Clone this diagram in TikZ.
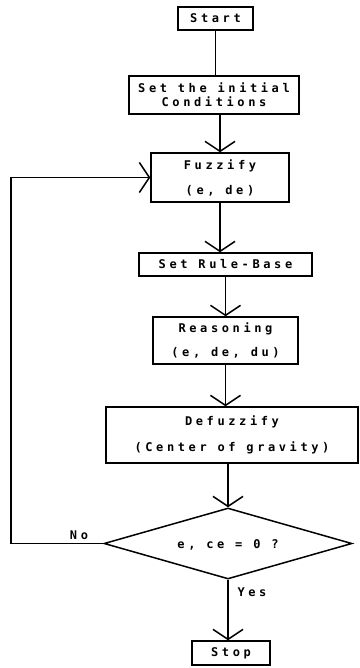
\documentclass[tikz,border=0pt]{standalone}
\usepackage{fontspec}
\newfontfamily\dmfont[LetterSpace=30]{DejaVu Sans Mono}
\usetikzlibrary{shapes.geometric,arrows.meta}
\begin{document}
\begin{tikzpicture}[x=1pt,y=-1pt,
  box/.style={draw,line width=1.5pt,rectangle,inner sep=0pt,align=center,font=\dmfont\bfseries\fontsize{12}{14}\selectfont},
  lbl/.style={font=\dmfont\bfseries\fontsize{12}{14}\selectfont,inner sep=0pt},
  conn/.style={line width=1.8pt},
  arr/.style={line width=1.8pt,-{Straight Barb[length=10pt,width=30pt,line width=1.5pt]}}]
\useasboundingbox (0,0) rectangle (359,668);
\node[box,minimum width=75pt,minimum height=23pt] (start) at (215.5,18.5) {Start};
\node[box,minimum width=170pt,minimum height=38pt,font=\dmfont\bfseries\fontsize{12}{14}\selectfont] (set) at (214,95) {Set the initial\\Conditions};
\node[box,minimum width=138pt,minimum height=49pt,font=\dmfont\bfseries\fontsize{12}{25}\selectfont] (fuzz) at (220,177.5) {Fuzzify\\(e, de)};
\node[box,minimum width=173pt,minimum height=23pt] (rule) at (225.5,264.5) {Set Rule-Base};
\node[box,minimum width=145pt,minimum height=47pt,font=\dmfont\bfseries\fontsize{12}{24}\selectfont] (reas) at (225.5,340.5) {Reasoning\\(e, de, du)};
\node[box,minimum width=252pt,minimum height=56pt,font=\dmfont\bfseries\fontsize{12}{26}\selectfont] (defuz) at (232,435) {Defuzzify\\(Center of gravity)};
\node[draw,diamond,line width=1.5pt,inner sep=0pt,minimum width=248pt,minimum height=71pt,lbl] (dec) at (228,543.5) {};
\node[lbl] (dectext) at (228,545) {e, ce = 0 ?};
\node[box,minimum width=78pt,minimum height=24pt] (stop) at (231,653) {Stop};
\coordinate (c1) at (11,543.5);
\coordinate (c2) at (11,177.5);
\draw[conn] (start.south) -- (start.south |- set.north);
\draw[arr] (fuzz.north |- set.south) -- (fuzz.north);
\draw[arr] (fuzz.south) -- (fuzz.south |- rule.north);
\draw[arr] (reas.north |- rule.south) -- (reas.north);
\draw[arr] (reas.south) -- (reas.south |- defuz.north);
\draw[arr] (dec.north |- defuz.south) -- (dec.north);
\draw[arr] (dec.south) -- (dec.south |- stop.north);
\draw[arr] (dec.west) -- (c1) -- (c2) -- (fuzz.west);
\node[lbl] (no) at (79,535) {No};
\node[lbl] (yes) at (252,592) {Yes};
\end{tikzpicture}
\end{document}
